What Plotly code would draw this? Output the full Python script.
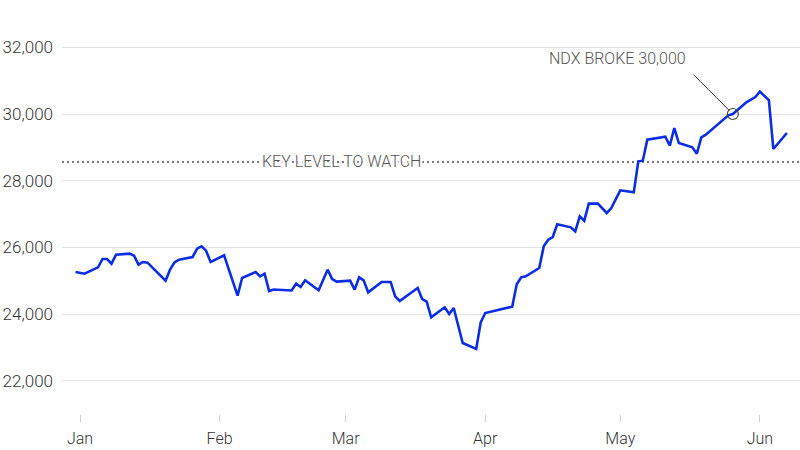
import plotly.graph_objects as go

# ---- data ----
dates = [
    "2025-12-31", "2026-01-02", "2026-01-05", "2026-01-06", "2026-01-07", "2026-01-08",
    "2026-01-09", "2026-01-12", "2026-01-13", "2026-01-14", "2026-01-15", "2026-01-16",
    "2026-01-20", "2026-01-21", "2026-01-22", "2026-01-23", "2026-01-26", "2026-01-27",
    "2026-01-28", "2026-01-29", "2026-01-30", "2026-02-02", "2026-02-05", "2026-02-06",
    "2026-02-09", "2026-02-10", "2026-02-11", "2026-02-12", "2026-02-13", "2026-02-17",
    "2026-02-18", "2026-02-19", "2026-02-20", "2026-02-23", "2026-02-25", "2026-02-26",
    "2026-02-27", "2026-03-02", "2026-03-03", "2026-03-04", "2026-03-05", "2026-03-06",
    "2026-03-09", "2026-03-11", "2026-03-12", "2026-03-13", "2026-03-17", "2026-03-18",
    "2026-03-19", "2026-03-20", "2026-03-23", "2026-03-24", "2026-03-25", "2026-03-27",
    "2026-03-30", "2026-03-31", "2026-04-01", "2026-04-07", "2026-04-08", "2026-04-09",
    "2026-04-10", "2026-04-13", "2026-04-14", "2026-04-15", "2026-04-16", "2026-04-17",
    "2026-04-20", "2026-04-21", "2026-04-22", "2026-04-23", "2026-04-24", "2026-04-26",
    "2026-04-28", "2026-04-29", "2026-05-01", "2026-05-04", "2026-05-05", "2026-05-06",
    "2026-05-07", "2026-05-11", "2026-05-12", "2026-05-13", "2026-05-14", "2026-05-17",
    "2026-05-18", "2026-05-19", "2026-05-20", "2026-05-25", "2026-05-26", "2026-05-28",
    "2026-05-29", "2026-05-31", "2026-06-01", "2026-06-03", "2026-06-04", "2026-06-07",
]
ndx = [
    25260, 25210, 25400, 25650, 25650, 25510,
    25780, 25810, 25750, 25480, 25560, 25540,
    25000, 25330, 25550, 25630, 25710, 25960,
    26030, 25900, 25560, 25760, 24550, 25080,
    25260, 25130, 25210, 24690, 24735, 24705,
    24910, 24810, 25010, 24710, 25330, 25050,
    24970, 25000, 24730, 25100, 25010, 24650,
    24960, 24960, 24530, 24390, 24780, 24450,
    24370, 23900, 24200, 24000, 24180, 23130,
    22950, 23750, 24030, 24220, 24890, 25100,
    25130, 25380, 26030, 26230, 26310, 26690,
    26600, 26480, 26930, 26800, 27310, 27310,
    27030, 27180, 27710, 27650, 28580, 28600,
    29230, 29320, 29050, 29580, 29130, 29000,
    28810, 29300, 29380, 29960, 30000, 30250,
    30350, 30510, 30670, 30420, 28950, 29430,
]
key_level = 28560
key_label = "KEY LEVEL TO WATCH"
break_date = "2026-05-26"
break_value = 30000
break_label = "NDX BROKE 30,000"
y_ticks = [22000, 24000, 26000, 28000, 30000, 32000]
x_range = ["2025-12-28", "2026-06-09 22:00"]
y_range = [21000, 33000]

FONT = "Roboto"
W = 300
HALO = "white 2px 0px 0px, white -2px 0px 0px, white 0px 2px 0px, white 0px -2px 0px, white 2px 2px 0px, white -2px -2px 0px, white 2px -2px 0px, white -2px 2px 0px"

fig = go.Figure()
fig.add_trace(go.Scatter(
    x=dates, y=ndx, mode="lines",
    line=dict(color="#0b2de3", width=2.6),
    hoverinfo="skip", showlegend=False,
))
fig.add_trace(go.Scatter(
    x=[break_date], y=[break_value], mode="markers",
    marker=dict(symbol="circle-open", size=11, color="#444", line=dict(width=1.2, color="#444")),
    hoverinfo="skip", showlegend=False,
))

fig.add_shape(type="line", xref="paper", yref="y", x0=0, x1=1, y0=key_level, y1=key_level,
              line=dict(color="#7a7a7a", width=2, dash="2px,3px"), layer="below")

fig.add_annotation(xref="paper", yref="y", x=0.3794, y=key_level, text=key_label,
                   showarrow=False,
                   font=dict(family=FONT, size=16, color="#555", weight=W, shadow=HALO),
                   xanchor="center", yanchor="middle", yshift=1)

fig.add_annotation(x=break_date, y=break_value, text="", showarrow=True, arrowhead=0,
                   arrowwidth=1, arrowcolor="#333", ax=-41, ay=-41, standoff=5.5)

fig.add_annotation(xref="paper", yref="paper", x=0.753, y=0.8885, text=break_label,
                   showarrow=False, font=dict(family=FONT, size=16, color="#555", weight=W),
                   xanchor="center", yanchor="middle")

fig.update_layout(
    width=800, height=450, autosize=False,
    margin=dict(l=62, r=0, t=14, b=36),
    paper_bgcolor="white", plot_bgcolor="white",
    font=dict(family=FONT, size=15, color="#333", weight=W),
    xaxis=dict(
        type="date", range=x_range, dtick="M1", tick0="2026-01-01", tickformat="%b",
        showgrid=False, zeroline=False, showline=False,
        ticks="outside", ticklen=7, tickwidth=1, tickcolor="#d0d0d0",
        ticklabelstandoff=3,
        tickfont=dict(family=FONT, size=16, color="#333", weight=W),
    ),
    yaxis=dict(
        range=y_range, tickvals=y_ticks, tickformat=",",
        showgrid=True, gridcolor="#e4e4e4", gridwidth=1,
        zeroline=False, showline=False, ticks="",
        ticklabelstandoff=8,
        tickfont=dict(family=FONT, size=17, color="#333", weight=W),
    ),
)

fig.write_html("out.html")
